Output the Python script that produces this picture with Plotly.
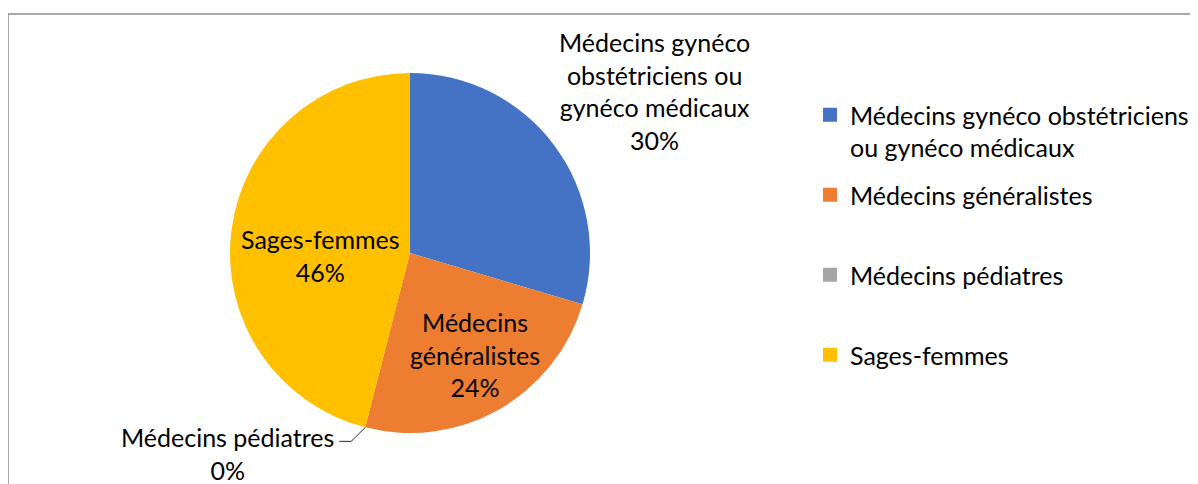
import math
import plotly.graph_objects as go

# ---- data ----
categories = [
    "Médecins gynéco obstétriciens ou gynéco médicaux",
    "Médecins généralistes",
    "Médecins pédiatres",
    "Sages-femmes",
]
slice_labels = [
    "Médecins gynéco<br>obstétriciens ou<br>gynéco médicaux",
    "Médecins<br>généralistes",
    "Médecins pédiatres",
    "Sages-femmes",
]
legend_labels = [
    "Médecins gynéco obstétriciens<br>ou gynéco médicaux",
    "Médecins généralistes<br> ",
    "Médecins pédiatres<br> ",
    "Sages-femmes",
]
values = [29.6, 24.4, 0.0, 46.0]
colors = ["#4472C4", "#ED7D31", "#A5A5A5", "#FFC000"]

W, H = 1198, 484
OFF = 8  # page body margin
FONT = "Lato"
FS = 25
TXT = "#000000"


def px(x):
    return (x - OFF) / W


def py(y):
    return 1 - (y - OFF) / H


# pie geometry (page pixels)
cx, cy, r = 410, 253, 180
# label anchor points (page pixels), one per slice
label_xy = [(655, 91), (475, 354), (228, 453), (320, 255)]

fig = go.Figure()
fig.add_trace(go.Pie(
    labels=categories,
    values=values,
    textinfo="none",
    marker=dict(colors=colors, line=dict(width=0)),
    sort=False,
    direction="clockwise",
    rotation=0,
    showlegend=False,
    hoverinfo="label+percent",
    domain=dict(x=[px(cx - r), px(cx + r)], y=[py(cy + r), py(cy - r)]),
))

# legend entries (one per category, grouped for spacing)
for i, (lab, col) in enumerate(zip(legend_labels, colors)):
    fig.add_trace(go.Scatter(
        x=[None], y=[None], mode="markers", name=lab,
        marker=dict(symbol="square", size=14, color=col),
        legendgroup=f"g{i}", showlegend=True, hoverinfo="skip",
    ))

total = sum(values)
pct = [f"{round(v / total * 100)}%" for v in values]

for lab, p, (lx, ly) in zip(slice_labels, pct, label_xy):
    fig.add_annotation(
        x=px(lx), y=py(ly), xref="paper", yref="paper",
        text=f"{lab}<br>{p}", showarrow=False,
        font=dict(family=FONT, size=FS, color=TXT), align="center",
        xanchor="center", yanchor="middle",
    )

# leader line for the zero slice
ang = 2 * math.pi * (values[0] + values[1]) / total
ax_ = cx + r * math.sin(ang)
ay_ = cy - r * math.cos(ang)
pts = [(ax_, ay_), (ax_ - 14, ay_ + 14), (ax_ - 26, ay_ + 14)]
path = "M " + " L ".join(f"{px(x)},{py(y)}" for x, y in pts)
fig.add_shape(type="path", path=path, xref="paper", yref="paper",
              line=dict(color="#262626", width=1))

# chart border (clipped at right/bottom like the reference)
fig.add_shape(type="rect", xref="paper", yref="paper",
              x0=px(8), x1=1.05, y0=-0.05, y1=py(14),
              line=dict(color="#8c8c8c", width=1.5), layer="below")

fig.update_layout(
    width=W, height=H,
    margin=dict(l=0, r=0, t=0, b=0),
    paper_bgcolor="white", plot_bgcolor="white",
    font=dict(family=FONT, size=FS, color=TXT),
    xaxis=dict(visible=False), yaxis=dict(visible=False),
    legend=dict(
        x=px(810), y=py(92), xanchor="left", yanchor="top",
        font=dict(family=FONT, size=FS, color=TXT),
        traceorder="grouped", tracegroupgap=12, valign="top",
        bgcolor="rgba(0,0,0,0)",
    ),
)

fig.write_html("out.html")
